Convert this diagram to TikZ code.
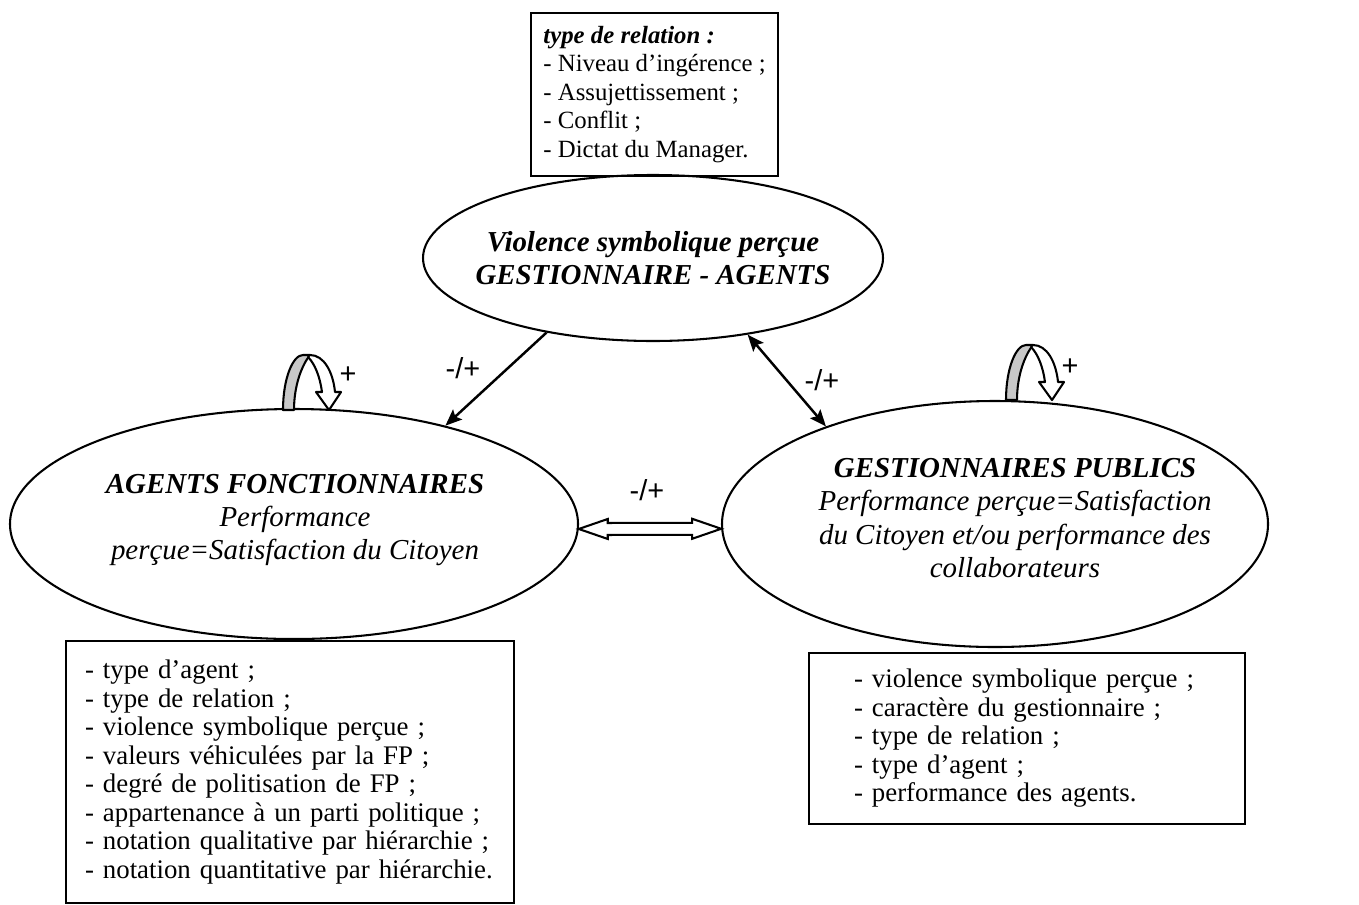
\documentclass[tikz,border=0pt]{standalone}
\usepackage{fontspec}
\setmainfont{Liberation Serif}
\newfontfamily\arial{Liberation Sans}
\usepackage{xcolor}
\definecolor{Gris}{RGB}{200,200,200}
\definecolor{Noir}{RGB}{0,0,0}
\definecolor{Blanc}{RGB}{255,255,255}
\newlength{\pix}
\setlength{\pix}{0.4843pt}
\newcommand{\petit}{\fontsize{12}{13.8}\selectfont}
\newcommand{\moyen}{\fontsize{13}{13.8}\selectfont}
\newcommand{\grand}{\fontsize{14}{16.1}\selectfont}
% boucle de retroaction (fleche courbe)
\newcommand{\boucle}[1]{%
	\begin{scope}[shift={#1}]
		\filldraw[fill=Gris, draw=Noir, line width=1pt, line join=round] (0,0) .. controls (0,-32) and (10,-55) .. (20,-55) -- (27,-55) .. controls (19,-45) and (11,-25) .. (11,0) -- cycle;
		\filldraw[fill=Blanc, draw=Noir, line width=1pt, line join=round] (27,-55) .. controls (41,-55) and (50,-38) .. (52,-18) -- (58,-18) -- (46,0) -- (33,-18) -- (39,-18) .. controls (37,-33) and (32,-46) .. (25,-53) -- cycle;
	\end{scope}}
\usepackage{tikz}
\usetikzlibrary{arrows.meta,calc,shapes.geometric}

\begin{document}
\begin{tikzpicture}[x=\pix, y=-\pix,
		bulle/.style={ellipse, draw=Noir, line width=1pt, inner sep=0pt},
		titre/.style={align=center, font=\grand\itshape},
		boite/.style={rectangle, draw=Noir, line width=1pt, anchor=north west, align=left, font=\moyen},
		fleche/.style={line width=1.2pt, -{Stealth[length=8pt, width=6.5pt, inset=1.5pt]}},
		signe/.style={font=\grand\arial}]
	
	\useasboundingbox (0,0) rectangle (1359,904);
	
	% Boites
	\node[boite, font=\petit, minimum width=247\pix, minimum height=163\pix] (relation) at (530,12) {\textbf{\textit{type de relation :}}\\- Niveau d’ingérence ;\\- Assujettissement ;\\- Conflit ;\\- Dictat du Manager.};
	\node[boite, inner xsep=19\pix, text width=410\pix, minimum height=262\pix] (critagents) at (65,640) {- type d’agent ;\\- type de relation ;\\- violence symbolique perçue ;\\- valeurs véhiculées par la FP ;\\- degré de politisation de FP ;\\- appartenance à un parti politique ;\\- notation qualitative par hiérarchie ;\\- notation quantitative par hiérarchie.};
	\node[boite, inner xsep=45\pix, text width=346\pix, minimum height=171\pix] (critgest) at (808,652) {- violence symbolique perçue ;\\- caractère du gestionnaire ;\\- type de relation ;\\- type d’agent ;\\- performance des agents.};
	
	% Ellipses
	\node[bulle, minimum width=460\pix, minimum height=166\pix] (violence) at (653,258) {};
	\node[bulle, minimum width=568\pix, minimum height=230\pix] (agents) at (294,524) {};
	\node[bulle, minimum width=546\pix, minimum height=246\pix] (gestion) at (995,524) {};
	
	% Textes
	\node[titre] (violenceTxt) at (violence) {\textbf{Violence symbolique perçue}\\\textbf{GESTIONNAIRE - AGENTS}};
	\node[titre] (agentsTxt) at ($(agents)+(1,-4)$) {\textbf{AGENTS FONCTIONNAIRES}\\Performance\\perçue=Satisfaction du Citoyen};
	\node[titre] (gestionTxt) at ($(gestion)+(20,-6)$) {\textbf{GESTIONNAIRES PUBLICS}\\Performance perçue=Satisfaction\\du Citoyen et/ou performance des\\collaborateurs};
	
	% Fleches
	\draw[fleche] (violence.215) -- (agents.33);
	\draw[fleche, {Stealth[length=8pt, width=6.5pt, inset=1.5pt]}-{Stealth[length=8pt, width=6.5pt, inset=1.5pt]}] (violence.321) -- (gestion.150);
	\draw[line width=1pt, line join=miter, fill=Blanc] (agents.-1) -- ++(29,-10) -- ++(0,4) -- ($(gestion.181)+(-29,-6)$) -- ++(0,-4) -- (gestion.181) -- ++(-29,10) -- ++(0,-4) -- ($(agents.-1)+(29,6)$) -- ++(0,4) -- cycle;
	
	% Boucles
	\boucle{(283,410)}
	\boucle{(1006,400)}
	
	% Signes
	\node[signe] (s1) at (463,368) {-/+};
	\node[signe] (s2) at (822,380) {-/+};
	\node[signe] (s3) at (647,490) {-/+};
	\node[signe] (p1) at (348,375) {+};
	\node[signe] (p2) at (1070,367) {+};
	
\end{tikzpicture}
\end{document}
